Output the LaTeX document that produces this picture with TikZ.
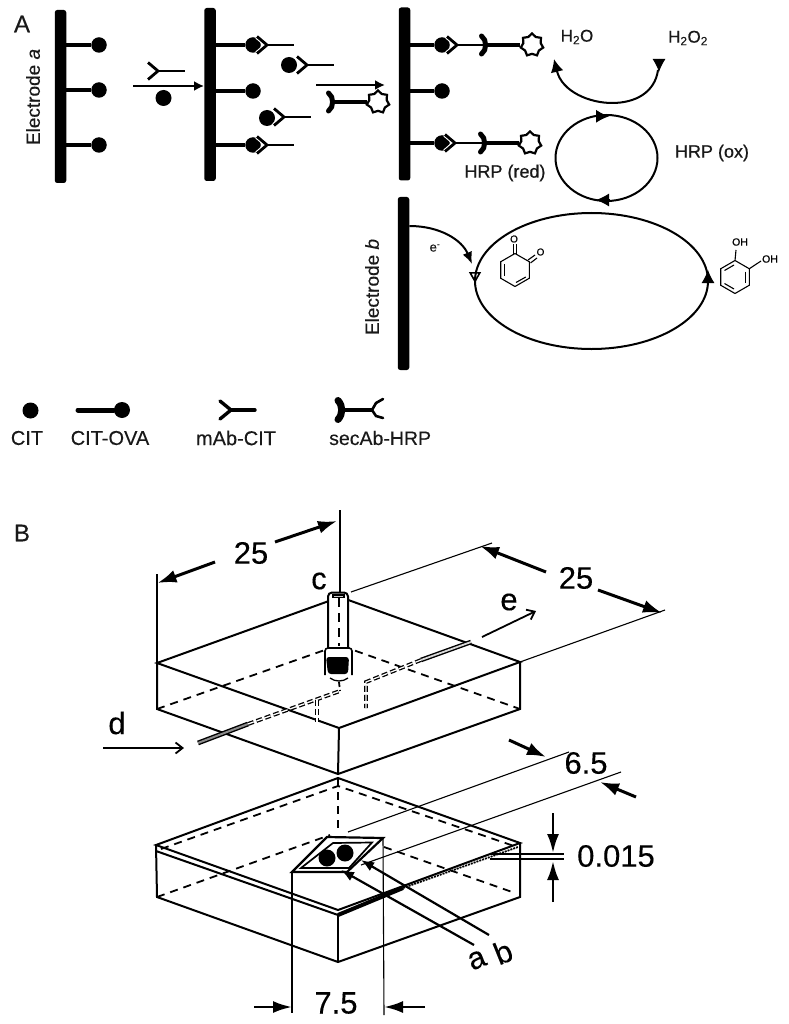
\documentclass[tikz,border=0pt]{standalone}
\usepackage{fontspec}
\setmainfont{Liberation Sans}[FakeBold=0.25]
\usetikzlibrary{arrows.meta,shapes.geometric}
\newcommand{\fsz}[1]{\fontsize{#1}{#1}\selectfont}
\tikzset{
  electrode/.style={fill=black,rounded corners=2.5pt,minimum width=11.5pt,minimum height=173pt,inner sep=0pt},
  ballnode/.style={circle,fill=black,inner sep=0pt,minimum size=15.5pt},
  branch/.style={line width=4pt},
  procarrow/.style={line width=2.8pt,-{Latex[length=10pt,width=10pt]}},
  cycle/.style={line width=2pt},
  headtip/.style={line width=1pt,-{Latex[length=13pt,width=13pt]}},
  hrpstar/.style={star,star points=7,star point ratio=1.3,draw=black,fill=white,line width=2.2pt,minimum size=23pt,inner sep=0pt},
  lab/.style={inner sep=0pt,text=black!90},
  dimtxt/.style={inner sep=0pt,font=\fsz{31},text=black},
  edge/.style={line width=2pt},
  hidden/.style={line width=1.8pt,dash pattern=on 8pt off 6pt},
  thinl/.style={line width=1.1pt},
  dimarrow/.style={line width=3pt,-{Latex[length=19pt,width=13pt]}},
  vdim/.style={line width=2.6pt,-{Latex[length=19pt,width=12pt]}},
  smallarrow/.style={line width=1.8pt,-{Straight Barb[length=7pt,width=11pt]}},
  bond/.style={line width=1.1pt},
  mab/.pic={
    \draw[white,line width=5pt] (-10,-8.5) -- (0,0) -- (-10,8.5);
    \draw[line width=2.8pt] (-10,-8.5) -- (0,0) -- (-10,8.5);
    \draw[line width=2.8pt] (0,0) -- (27,0);
  },
  secab/.pic={
    \draw[line width=5pt,line cap=round] (-7.5,-9) .. controls (-2,-5) and (-2,5) .. (-7.5,9);
    \draw[line width=3.8pt] (-3,0) -- (31,0);
  }
}
\begin{document}
\begin{tikzpicture}[x=1pt,y=-1pt]
\useasboundingbox (0,0) rectangle (788,1024);
\fill[white] (0,0) rectangle (788,1024);

% ---------- Panel A ----------
\node[lab,font=\fsz{24}] (panA) at (22,24) {A};
\node[lab,font=\fsz{19},rotate=90] (ela) at (33,97) {Electrode \textit{a}};
\node[lab,font=\fsz{19},rotate=90] (elb) at (372,287) {Electrode \textit{b}};

\node[electrode] (e1) at (60.5,96.5) {};
\node[electrode] (e2) at (210,94.5) {};
\node[electrode] (e3) at (404.5,94) {};
\node[electrode] (e4) at (403.5,283.5) {};

% electrode 1
\foreach \n/\y in {a/45,b/90,c/145}{
  \node[ballnode] (b1\n) at (99,\y) {};
  \draw[branch] (b1\n) -- (b1\n -| e1.center);
}
% electrode 2
\foreach \n/\y in {a/45,b/91,c/145}{
  \node[ballnode] (b2\n) at (253,\y) {};
  \draw[branch] (b2\n) -- (b2\n -| e2.center);
}
\pic at (267,45) {mab};
\pic at (267,145) {mab};
% free species between 2 and 3
\node[ballnode,minimum size=16pt] (f1) at (289,65) {};
\pic at (307,65) {mab};
\node[ballnode,minimum size=16pt] (f2) at (267,118) {};
\pic at (284,117) {mab};
% first reagent arrow
\coordinate (a1s) at (133,86);
\draw[procarrow] (a1s) -- (a1s -| e2.west);
\pic at (158,71) {mab};
\node[ballnode,minimum size=16pt] (f3) at (163.5,98) {};
% second reagent arrow
\coordinate (a2s) at (316,85);
\coordinate (a2e) at (385,85);
\draw[procarrow] (a2s) -- (a2e);
\pic at (336,102) {secab};
\node[hrpstar] (s0) at (378,102) {};
% electrode 3
\foreach \n/\y in {a/45,b/91,c/143}{
  \node[ballnode] (b3\n) at (442,\y) {};
  \draw[branch] (b3\n) -- (b3\n -| e3.center);
}
\pic at (457,45) {mab};
\pic at (489,45) {secab};
\node[hrpstar] (s1) at (532,45) {};
\pic at (455,143) {mab};
\pic at (488,143) {secab};
\node[hrpstar] (s2) at (530,143) {};

% H2O / H2O2 cycle
\node[lab,font=\fsz{17}] (h2o) at (577,37) {H\textsubscript{2}O};
\node[lab,font=\fsz{17}] (h2o2) at (688,38) {H\textsubscript{2}O\textsubscript{2}};
\coordinate (c1a) at (554,59);
\coordinate (c1b) at (658,70);
\draw[cycle,{Latex[length=13pt,width=13pt]}-] (c1a) .. controls (562,92) and (590,103) .. (612,103) .. controls (636,103) and (655,92) .. (c1b);
\coordinate (c1h) at (659,59);
\coordinate (c1i) at (659,72);
\draw[headtip] (c1h) -- (c1i);
% HRP cycle
\draw[cycle] (606.5,158) ellipse [x radius=51,y radius=43];
\coordinate (t1) at (596,116.3);
\coordinate (t2) at (609,116.3);
\coordinate (t3) at (609,200);
\coordinate (t4) at (596,200);
\draw[headtip] (t1) -- (t2);
\draw[headtip] (t3) -- (t4);
\node[lab,font=\fsz{18}\addfontfeature{FakeBold=0.7}] (ox) at (712,153) {HRP (ox)};
\node[lab,font=\fsz{18}\addfontfeature{FakeBold=0.7}] (red) at (505,173) {HRP (red)};

% electron arrow and big cycle
\coordinate (ee) at (472,264);
\draw[cycle,-{Latex[length=12pt,width=10pt]}] (e4.east |- 0,226) .. controls (440,226) and (462,240) .. (ee);
\node[lab,font=\fsz{13}] (em) at (435,248) {e\textsuperscript{-}};
\draw[cycle] (591.5,281) ellipse [x radius=116.5,y radius=68];
\coordinate (u1) at (475,272);
\coordinate (u2) at (475,283);
\coordinate (u3) at (708,284);
\coordinate (u4) at (708,270);
\draw[line width=1.6pt,-{Triangle[open,length=11pt,width=12pt]}] (u1) -- (u2);
\draw[headtip] (u3) -- (u4);

% o-quinone
\begin{scope}[shift={(515,270)}]
  \draw[bond] (0,-16.5) -- (14.3,-8.25) -- (14.3,8.25) -- (0,16.5) -- (-14.3,8.25) -- (-14.3,-8.25) -- cycle;
  \draw[bond] (-10.5,-6) -- (-10.5,6);
  \draw[bond] (1,12.5) -- (10.8,7);
  \draw[bond] (-1.5,-16.5) -- (-1.5,-26);
  \draw[bond] (1.5,-16.5) -- (1.5,-26);
  \draw[bond] (13,-10) -- (20,-15);
  \draw[bond] (15.5,-7) -- (22,-12);
  \node[inner sep=0pt,font=\fsz{10}] (o1) at (-1,-31) {O};
  \node[inner sep=0pt,font=\fsz{10}] (o2) at (25.5,-18) {O};
\end{scope}
% catechol
\begin{scope}[shift={(735,277)}]
  \draw[bond] (0,-16.5) -- (14.3,-8.25) -- (14.3,8.25) -- (0,16.5) -- (-14.3,8.25) -- (-14.3,-8.25) -- cycle;
  \draw[bond] (-10.5,-6.5) -- (-1,-12);
  \draw[bond] (10.5,-5.5) -- (10.5,5.5);
  \draw[bond] (-10.5,6.5) -- (-1,12);
  \draw[bond] (0,-16.5) -- (1,-27);
  \draw[bond] (14.3,-8.25) -- (26,-16);
  \node[inner sep=0pt,font=\fsz{10.5}] (oh1) at (5,-35) {OH};
  \node[inner sep=0pt,font=\fsz{10.5}] (oh2) at (35,-18) {OH};
\end{scope}

% legend
\node[ballnode,minimum size=16pt] (l1) at (30.5,410.5) {};
\node[lab,font=\fsz{20}] (t11) at (27,438) {CIT};
\node[ballnode,minimum size=16pt] (l2) at (122,410) {};
\coordinate (l2s) at (78,410);
\draw[line width=5pt,line cap=round] (l2s) -- (l2);
\node[lab,font=\fsz{20}] (t12) at (110,438) {CIT-OVA};
\draw[line width=3.4pt,line cap=round] (220,401) -- (231,410) -- (220,419);
\draw[line width=3.4pt,line cap=round] (231,410) -- (255,410);
\node[lab,font=\fsz{20}] (t13) at (236,438) {mAb-CIT};
\draw[line width=7pt,line cap=round] (338,400.5) .. controls (343,406) and (343,414) .. (338,419.5);
\draw[line width=4.4pt] (341,410) -- (372,410);
\draw[line width=2.6pt,line cap=round] (372,410) -- (376,403) -- (383,399);
\draw[line width=2.6pt,line cap=round] (372,410) -- (376,416) -- (383,418);
\node[lab,font=\fsz{19.5},anchor=west] (t14) at (329,438) {secAb-HRP};

% ---------- Panel B ----------
\node[lab,font=\fsz{24}] (panB) at (22,533) {B};

% upper block
\coordinate (UB) at (340,597);
\coordinate (UL) at (157,663);
\coordinate (UF) at (339,728);
\coordinate (UR) at (520,662);
\coordinate (ULb) at (157,709);
\coordinate (UFb) at (338,774);
\coordinate (URb) at (520,709);
\coordinate (UBb) at (339,645);
\draw[hidden] (ULb) -- (UBb) -- (URb);
\draw[edge] (UB) -- (UL) -- (UF) -- (UR) -- cycle;
\draw[edge] (UL) -- (ULb) -- (UFb) -- (URb) -- (UR);
\draw[edge] (UF) -- (UFb);

% dimension lines upper
\coordinate (v1t) at (340,510);
\coordinate (v2t) at (157,574);
\coordinate (r1) at (351,592);
\coordinate (r1e) at (492,543);
\coordinate (r2e) at (665,610);
\draw[thinl] (v1t) -- (340,592);
\draw[thinl] (v2t) -- (UL);
\draw[thinl] (r1) -- (r1e);
\draw[thinl] (UR) -- (r2e);
\node[dimtxt] (d25a) at (251,553) {25};
\node[dimtxt] (d25b) at (576,578) {25};
\coordinate (a1) at (215,562); \coordinate (a2) at (157.5,583);
\coordinate (a3) at (275,542); \coordinate (a4) at (337,521);
\coordinate (a5) at (546,572); \coordinate (a6) at (480,546);
\coordinate (a7) at (598,590); \coordinate (a8) at (662,613);
\draw[dimarrow] (a1) -- (a2);
\draw[dimarrow] (a3) -- (a4);
\draw[dimarrow] (a5) -- (a6);
\draw[dimarrow] (a7) -- (a8);

% tubes in the upper block
\coordinate (dt1) at (198,743);
\coordinate (dt2) at (248,724);
\coordinate (dt3) at (340,691);
\draw[line width=1.3pt,double=white,double distance=1.3pt,dash pattern=on 6pt off 3pt] (dt2) -- (dt3);
\draw[line width=1.4pt,double=black!45,double distance=2pt] (dt1) -- (dt2);
\coordinate (et1) at (421,660);
\coordinate (et2) at (471,642);
\coordinate (et3) at (366,682);
\coordinate (et4) at (366,708);
\draw[line width=1.4pt,double=black!15,double distance=1.8pt] (et1) -- (et2);
\draw[line width=1.3pt,double=white,double distance=1.2pt,dash pattern=on 6pt off 3pt] (et1) -- (et3) -- (et4);
\coordinate (vd1) at (317,700);
\coordinate (vd2) at (317,722);
\draw[line width=1.3pt,double=white,double distance=1.2pt,dash pattern=on 6pt off 3pt] (vd1) -- (vd2);

% inlet cylinder c
\draw[line width=2pt,fill=white,rounded corners=4pt] (328,650) -- (328,592.5) -- (348,592.5) -- (348,650);
\draw[line width=1.2pt,fill=black!20] (333,595) rectangle (344,597.5);
\draw[line width=1.8pt,dash pattern=on 9pt off 6pt] (339,598) -- (339,646);
\draw[line width=1.6pt,fill=white,rounded corners=3pt] (325,675) -- (325,648) -- (352,648) -- (352,675);
\fill[black,rounded corners=3pt] (326,657) -- (349,657) -- (348,674) -- (328,674) -- cycle;
\draw[line width=1.3pt] (330,678) .. controls (335,682) and (343,682) .. (348,678);
\draw[line width=1.8pt,dash pattern=on 5pt off 3pt] (339,682) -- (340,691);

% labels and arrows c d e
\node[dimtxt] (lc) at (319,581) {c};
\node[dimtxt] (ld) at (117,723) {d};
\node[dimtxt] (le) at (509,602) {e};
\coordinate (da) at (103,748);
\coordinate (db) at (184,748);
\draw[smallarrow] (da) -- (db);
\coordinate (ea) at (482,637);
\coordinate (eb) at (536,611);
\draw[smallarrow] (ea) -- (eb);

% lower block
\coordinate (LB) at (338,778);
\coordinate (LL) at (156,845);
\coordinate (LF) at (338,910);
\coordinate (LR) at (520,843);
\coordinate (LL2) at (156,851);
\coordinate (LF2) at (338,915);
\coordinate (LLb) at (157,897);
\coordinate (LFb) at (338,962);
\coordinate (LRb) at (520,897);
\coordinate (LBi) at (338,786);
\draw[hidden] (161,849) -- (LBi) -- (514,846);
\draw[hidden] (LB) -- (338,832);
\draw[hidden] (LLb) -- (330,835);
\draw[hidden] (384,847) -- (515,893);
\draw[edge] (LB) -- (LL) -- (LF) -- (LR) -- cycle;
\draw[edge] (LL2) -- (LF2);
\draw[edge] (LL) -- (LLb) -- (LFb) -- (LRb) -- (LR);
\draw[edge] (LF2) -- (LFb);
\draw[line width=4pt] (LF2) -- (403,888);
\draw[line width=1.8pt,dash pattern=on 2pt off 1pt] (403,888) -- (518,847);

% electrode window
\coordinate (W1) at (327,837);
\coordinate (W2) at (383,838);
\coordinate (W3) at (347,872);
\coordinate (W4) at (292,872);
\fill[white] (W1) -- (W2) -- (W3) -- (W4) -- cycle;
\draw[line width=2.2pt] (W1) -- (W2) -- (W3) -- (W4) -- cycle;
\draw[line width=1.7pt] (333,843) -- (372,842.5) -- (349,868) -- (301,868) -- cycle;
\node[ballnode,minimum size=17pt] (wa) at (327,858) {};
\node[ballnode,minimum size=17pt] (wb) at (345,853) {};

% 6.5 dimension
\coordinate (p1) at (348,832); \coordinate (p2) at (569,752);
\coordinate (p3) at (361,865); \coordinate (p4) at (621,772);
\draw[thinl] (p1) -- (p2);
\draw[thinl] (p3) -- (p4);
\node[dimtxt] (d65) at (586,763) {6.5};
\coordinate (p5) at (509,740); \coordinate (p6) at (546,757);
\coordinate (p7) at (636,797); \coordinate (p8) at (600,782);
\draw[dimarrow] (p5) -- (p6);
\draw[dimarrow] (p7) -- (p8);

% 0.015 dimension
\coordinate (q1) at (490,854); \coordinate (q2) at (564,854);
\coordinate (q3) at (490,859); \coordinate (q4) at (564,859);
\draw[thinl] (q1) -- (q2);
\draw[thinl] (q3) -- (q4);
\node[dimtxt] (d015) at (616,856) {0.015};
\coordinate (q5) at (553,813); \coordinate (q6) at (553,853);
\coordinate (q7) at (553,902); \coordinate (q8) at (553,861);
\draw[vdim] (q5) -- (q6);
\draw[vdim] (q7) -- (q8);

% a b pointers
\node[dimtxt,rotate=22] (la) at (477,960) {a};
\node[dimtxt,rotate=22] (lb) at (503,952) {b};
\coordinate (ap) at (474,945); \coordinate (bp) at (489,935);
\coordinate (aq) at (341,870); \coordinate (bq) at (361,860);
\draw[line width=2.2pt,-{Latex[length=13pt,width=10pt]}] (ap) -- (aq);
\draw[line width=2.2pt,-{Latex[length=13pt,width=10pt]}] (bp) -- (bq);

% 7.5 dimension
\coordinate (s1a) at (292,1013); \coordinate (s2a) at (384,1015);
\draw[thinl] (W4) -- (s1a);
\draw[thinl] (W2) -- (s2a);
\node[dimtxt] (d75) at (336,1003) {7.5};
\coordinate (s3) at (254,1007); \coordinate (s4) at (292,1007);
\coordinate (s5) at (425,1007); \coordinate (s6) at (384,1007);
\draw[vdim] (s3) -- (s4);
\draw[vdim] (s5) -- (s6);
\end{tikzpicture}
\end{document}
